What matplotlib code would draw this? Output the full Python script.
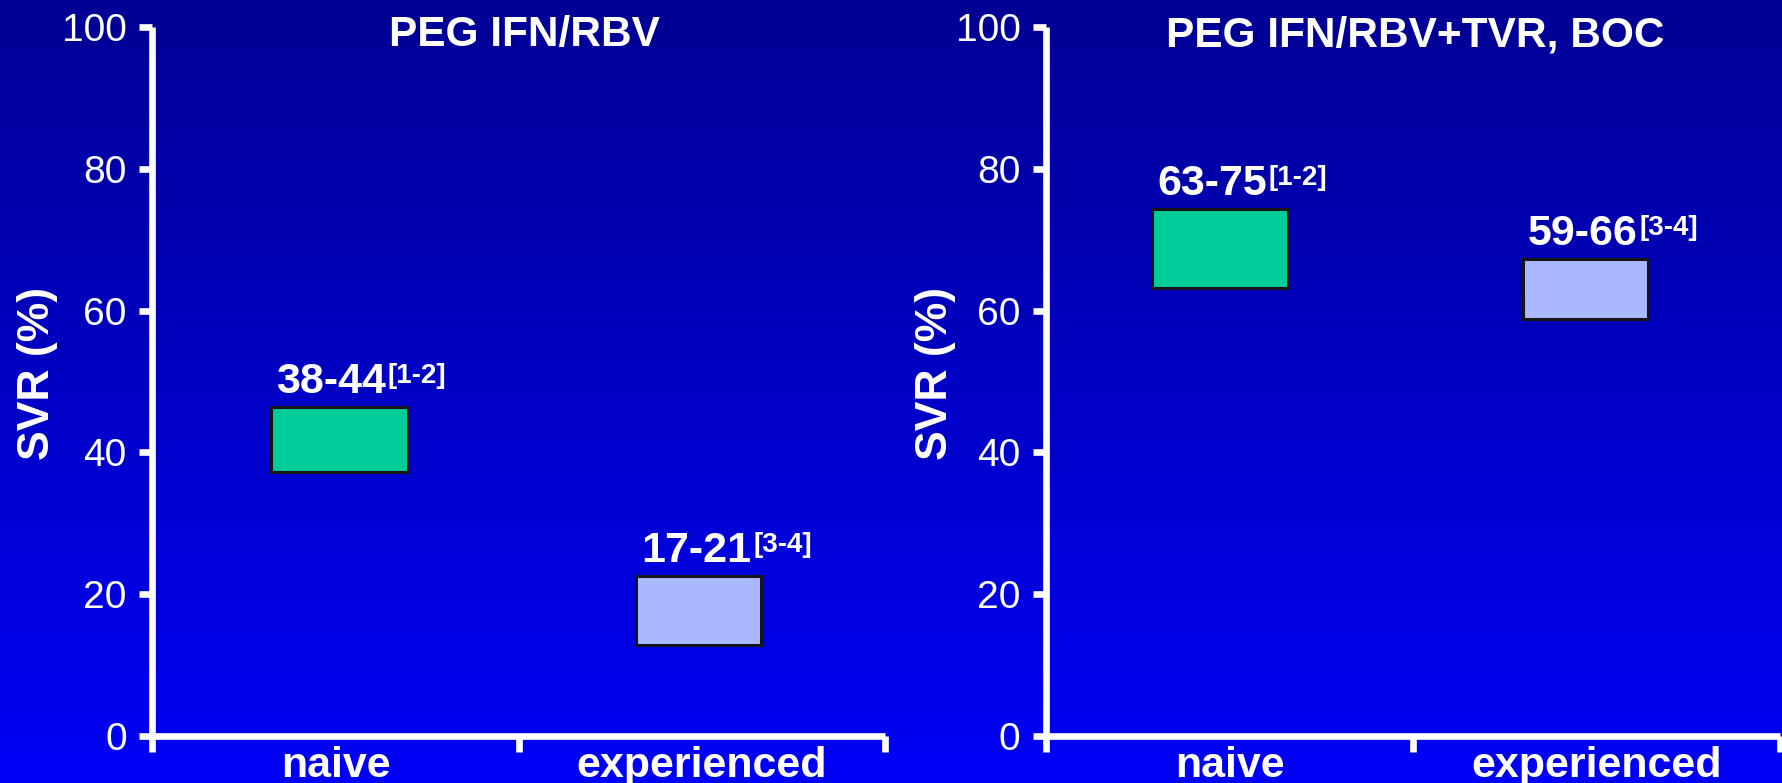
import numpy as np
import matplotlib
matplotlib.use("Agg")
import matplotlib.pyplot as plt

plt.rcParams['font.family'] = ['Liberation Sans', 'DejaVu Sans']

# data
categories = ['naive', 'experienced']
panel_titles = ['PEG IFN/RBV', 'PEG IFN/RBV+TVR, BOC']
range_labels = [['38-44', '17-21'], ['63-75', '59-66']]
ref_labels = [['[1-2]', '[3-4]'], ['[1-2]', '[3-4]']]
svr_low = [[37.2, 12.8], [63.2, 58.8]]
svr_high = [[46.4, 22.6], [74.3, 67.3]]
y_ticks = [0, 20, 40, 60, 80, 100]

# layout
bar_left = [[0.324, 1.321], [0.289, 1.300]]
bar_width = [[0.374, 0.342], [0.370, 0.340]]
bar_colors = ['#00CC99', '#AAB8FF']
axes_rects = [[0.0855, 0.060, 0.4108, 0.9055], [0.5867, 0.060, 0.4117, 0.9055]]
ylabel_x = [-0.157, -0.151]
title_x = [1.015, 1.005]

fig = plt.figure(figsize=(17.83, 7.83), dpi=100)

# gradient background
bg = fig.add_axes([0, 0, 1, 1], zorder=-10)
grad = np.linspace(0, 1, 256).reshape(-1, 1)
top = np.array([0.0, 0.0, 0.58])
bot = np.array([0.0, 0.0, 0.97])
img = top + (bot - top) * grad[:, :, None]
bg.imshow(img, aspect='auto', extent=[0, 1, 0, 1], origin='upper')
bg.axis('off')

for p in range(2):
    ax = fig.add_axes(axes_rects[p])
    ax.set_facecolor('none')
    ax.set_xlim(0, 2)
    ax.set_ylim(0, 100)
    for s in ['top', 'right']:
        ax.spines[s].set_visible(False)
    for s in ['left', 'bottom']:
        ax.spines[s].set_color('white')
        ax.spines[s].set_linewidth(4.8)
        ax.spines[s].set_capstyle('butt')

    ax.set_yticks(y_ticks)
    ax.set_yticklabels([str(t) for t in y_ticks])
    ax.tick_params(axis='y', colors='white', direction='out', length=9.5, width=4.8,
                   labelsize=28, pad=9)
    ax.set_xticks([0, 1, 2])
    ax.set_xticklabels([])
    ax.tick_params(axis='x', which='major', colors='white', direction='out',
                   length=11.5, width=4.8)
    ax.set_xticks([0.5, 1.5], minor=True)
    ax.set_xticklabels(categories, minor=True, fontsize=31, fontweight='bold', color='white')
    ax.tick_params(axis='x', which='minor', length=0, pad=7)

    for i in range(2):
        lo = svr_low[p][i]
        hi = svr_high[p][i]
        ax.bar(bar_left[p][i], hi - lo, bottom=lo, width=bar_width[p][i], align='edge',
               color=bar_colors[i], edgecolor='#151515', linewidth=2.2, zorder=3)
        t = ax.annotate(range_labels[p][i], xy=(bar_left[p][i], hi), xytext=(5, 14),
                        textcoords='offset pixels', ha='left', va='baseline',
                        fontsize=31, fontweight='bold', color='white')
        ax.annotate(ref_labels[p][i], xy=(1, 0), xycoords=t, xytext=(2, 13),
                    textcoords='offset pixels', ha='left', va='bottom',
                    fontsize=20, fontweight='bold', color='white')

    ax.text(title_x[p], 97.3, panel_titles[p], ha='center', va='baseline', fontsize=30.5,
            fontweight='bold', color='white')
    ax.text(ylabel_x[p], 0.512, 'SVR (%)', transform=ax.transAxes, rotation=90,
            ha='center', va='center', fontsize=32, fontweight='bold', color='white')

fig.savefig('out.png', dpi=100)
